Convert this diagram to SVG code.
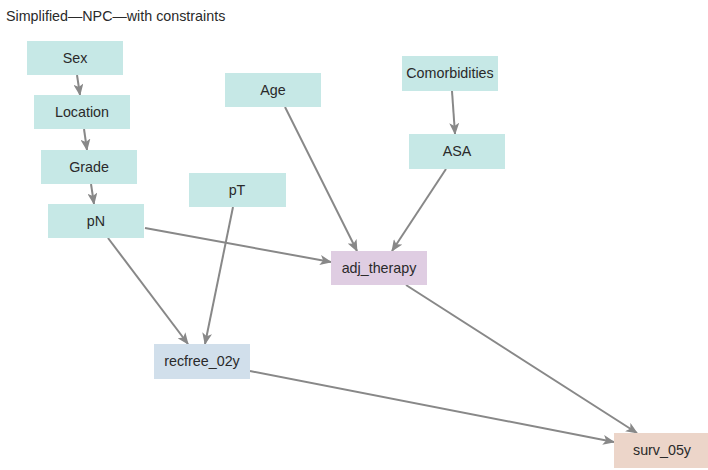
<svg xmlns="http://www.w3.org/2000/svg" width="708" height="470" viewBox="0 0 708 470">
<defs>
<style>
.n rect{stroke:none}
.t{fill:#c6e8e6}
.p{fill:#dfcde2}
.b{fill:#d1dfeb}
.s{fill:#ecd5c9}
text{font-family:"Liberation Sans",Arial,sans-serif;font-size:14.3px;fill:#2a2a2a}
.n text{text-anchor:middle;dominant-baseline:central}
.e line{stroke:#888;stroke-width:2;fill:none}
</style>
<marker id="ah" viewBox="0 0 12 10" refX="11" refY="5" markerWidth="12" markerHeight="10" markerUnits="userSpaceOnUse" orient="auto">
<path d="M0,0 L12,5 L0,10 L3,5 Z" fill="#888"/>
</marker>
</defs>
<rect width="708" height="470" fill="#fff"/>
<text x="6" y="21">Simplified—NPC—with constraints</text>
<g class="e">
<line x1="77" y1="75" x2="80" y2="95" marker-end="url(#ah)"/>
<line x1="84" y1="129" x2="87" y2="150" marker-end="url(#ah)"/>
<line x1="91" y1="184" x2="94" y2="204" marker-end="url(#ah)"/>
<line x1="145" y1="228" x2="331" y2="262" marker-end="url(#ah)"/>
<line x1="108" y1="238" x2="188" y2="344" marker-end="url(#ah)"/>
<line x1="233" y1="207" x2="205" y2="344" marker-end="url(#ah)"/>
<line x1="285" y1="107" x2="357" y2="251" marker-end="url(#ah)"/>
<line x1="452" y1="91" x2="455" y2="134" marker-end="url(#ah)"/>
<line x1="446" y1="169" x2="392" y2="251" marker-end="url(#ah)"/>
<line x1="406" y1="285" x2="637" y2="433" marker-end="url(#ah)"/>
<line x1="250" y1="371" x2="614" y2="442" marker-end="url(#ah)"/>
</g>
<g id="sex" class="n"><rect class="t" x="27" y="41" width="96" height="34"/><text x="75" y="58">Sex</text></g>
<g id="location" class="n"><rect class="t" x="34" y="95" width="96" height="34"/><text x="82" y="112">Location</text></g>
<g id="grade" class="n"><rect class="t" x="41" y="150" width="96" height="34"/><text x="89" y="167">Grade</text></g>
<g id="pn" class="n"><rect class="t" x="48" y="204" width="96" height="34"/><text x="96" y="221">pN</text></g>
<g id="pt" class="n"><rect class="t" x="189" y="173" width="97" height="34"/><text x="237" y="190">pT</text></g>
<g id="age" class="n"><rect class="t" x="225" y="73" width="96" height="34"/><text x="273" y="90">Age</text></g>
<g id="comorbidities" class="n"><rect class="t" x="402" y="56" width="96" height="35"/><text x="450" y="73">Comorbidities</text></g>
<g id="asa" class="n"><rect class="t" x="409" y="134" width="96" height="35"/><text x="457" y="151">ASA</text></g>
<g id="adj_therapy" class="n"><rect class="p" x="331" y="251" width="96" height="34"/><text x="379" y="268">adj_therapy</text></g>
<g id="recfree_02y" class="n"><rect class="b" x="154" y="344" width="96" height="35"/><text x="202" y="361">recfree_02y</text></g>
<g id="surv_05y" class="n"><rect class="s" x="614" y="433" width="96" height="35"/><text x="662" y="450">surv_05y</text></g>
</svg>
